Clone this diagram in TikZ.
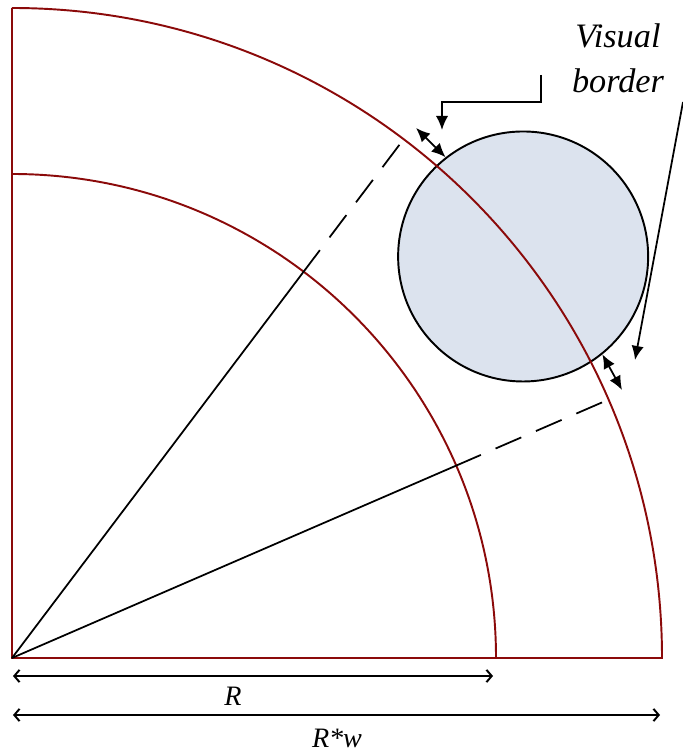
\documentclass[tikz,border=0pt]{standalone}
\usepackage{fontspec}
\setmainfont{Liberation Serif}
\usepackage{tikz}
\usetikzlibrary{arrows.meta,positioning,calc}
\definecolor{arcred}{RGB}{139,10,10}
\definecolor{objblue}{RGB}{220,227,238}
\tikzset{
  sector/.style={draw=arcred, line width=1.1pt},
  ray/.style={draw=black, line width=1pt},
  rayext/.style={ray, dash pattern=on 0.56cm off 0.32cm},
  objc/.style={circle, draw=black, line width=1.1pt, fill=objblue, minimum size=5cm, inner sep=0pt},
  gaparrow/.style={line width=1pt, {Latex[length=8pt,width=7pt]}-{Latex[length=8pt,width=7pt]}},
  callout/.style={line width=1pt, -{Latex[length=8pt,width=7pt]}},
  dimarrow/.style={line width=1.1pt, {Straight Barb[length=3pt,width=7pt]}-{Straight Barb[length=3pt,width=7pt]}},
  dimlbl/.style={font=\itshape\fontsize{16}{19}\selectfont, anchor=base, inner sep=0pt},
  notelbl/.style={font=\itshape\fontsize{19.5}{23}\selectfont, anchor=base, inner sep=0pt}
}

\begin{document}
\begin{tikzpicture}
  \useasboundingbox (-0.24,-1.94) rectangle (13.42,13.16);

  % object on the outer arc
  \node[objc] (obj) at (38.15:13) {};

  % sectors
  \coordinate (o) at (0,0);
  \draw[sector] (0,13) -- (o) -- (13,0) arc (0:90:13);
  \draw[sector] (9.68,0) arc (0:90:9.68);

  % rays bounding the object
  \coordinate (a1) at (52.95:10.22);
  \coordinate (a1s) at (52.95:10.54);
  \coordinate (a1e) at (52.95:12.88);
  \coordinate (a2) at (23.42:10.22);
  \coordinate (a2s) at (23.42:10.54);
  \coordinate (a2e) at (23.42:12.88);
  \draw[ray] (o) -- (a1);
  \draw[rayext] (a1s) -- (a1e);
  \draw[ray] (o) -- (a2);
  \draw[rayext] (a2s) -- (a2e);

  % visual border gaps
  \coordinate (g1) at (8.08,10.6);
  \coordinate (g2) at (12.2,5.36);
  \draw[gaparrow] (g1) -- (obj.128);
  \draw[gaparrow] (obj.-51) -- (g2);

  % callout
  \node[notelbl] (vis) at (12.12,12.2) {Visual};
  \node[notelbl] (brd) at (12.12,11.3) {border};
  \coordinate (c1) at (10.58,11.66);
  \coordinate (c2) at (10.58,11.12);
  \coordinate (c3) at (8.6,11.12);
  \coordinate (c4) at (8.6,10.56);
  \draw[callout] (c1) -- (c2) -- (c3) -- (c4);
  \coordinate (d1) at (13.42,11.12);
  \coordinate (d2) at (12.46,5.96);
  \draw[callout] (d1) -- (d2);

  % dimensions
  \coordinate (r0) at (0.02,-0.36);
  \coordinate (r1) at (9.62,-0.36);
  \coordinate (w0) at (0.02,-1.14);
  \coordinate (w1) at (12.96,-1.14);
  \draw[dimarrow] (r0) -- (r1);
  \draw[dimarrow] (w0) -- (w1);
  \node[dimlbl] (rlbl) at (4.42,-0.94) {R};
  \node[dimlbl] (wlbl) at (6.5,-1.78) {R*w};
\end{tikzpicture}
\end{document}
